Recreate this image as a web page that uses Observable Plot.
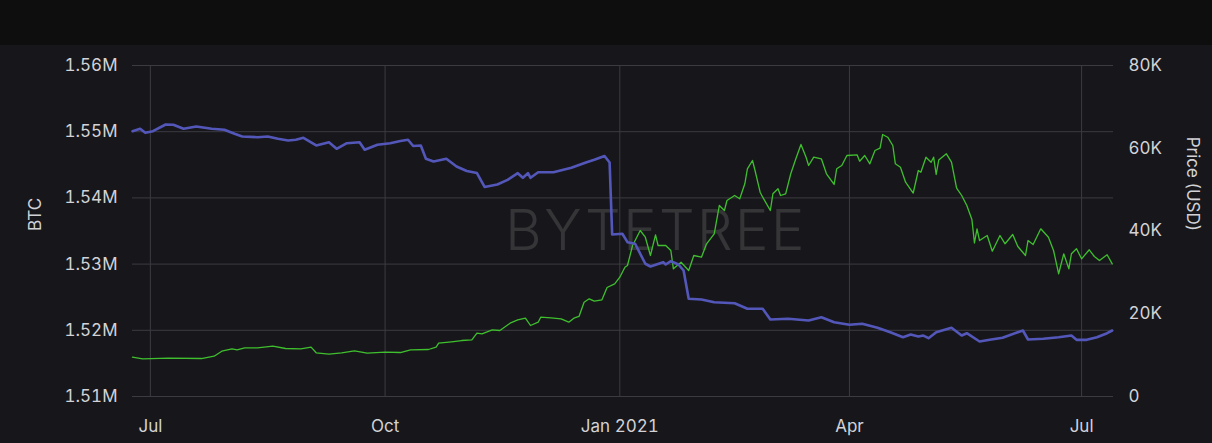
<!DOCTYPE html>
<html><head><meta charset="utf-8">
<script src="https://cdn.jsdelivr.net/npm/d3@7"></script>
<script src="https://cdn.jsdelivr.net/npm/@observablehq/plot@0.6"></script>
<style>
html,body{margin:0;padding:0;background:#0e0e10;overflow:hidden;}
#top{height:45px;background:#0e0e0f;}
#chart{background:#17171b;height:398px;}
</style></head><body>
<div id="top"></div><div id="chart"></div>
<script>
const btcDates = ["2020-06-24","2020-06-27","2020-06-29","2020-07-02","2020-07-07","2020-07-10","2020-07-14","2020-07-19","2020-07-25","2020-07-30","2020-08-03","2020-08-06","2020-08-12","2020-08-16","2020-08-20","2020-08-24","2020-08-27","2020-08-30","2020-09-04","2020-09-09","2020-09-12","2020-09-16","2020-09-21","2020-09-23","2020-09-28","2020-10-03","2020-10-07","2020-10-10","2020-10-12","2020-10-15","2020-10-17","2020-10-20","2020-10-25","2020-10-29","2020-11-02","2020-11-06","2020-11-09","2020-11-14","2020-11-18","2020-11-22","2020-11-24","2020-11-26","2020-11-27","2020-11-30","2020-12-06","2020-12-13","2020-12-19","2020-12-22","2020-12-26","2020-12-28","2020-12-29","2021-01-02","2021-01-04","2021-01-07","2021-01-11","2021-01-13","2021-01-18","2021-01-19","2021-01-21","2021-01-24","2021-01-26","2021-01-28","2021-02-02","2021-02-07","2021-02-15","2021-02-20","2021-02-26","2021-03-01","2021-03-08","2021-03-16","2021-03-21","2021-03-26","2021-04-01","2021-04-06","2021-04-12","2021-04-17","2021-04-22","2021-04-25","2021-04-28","2021-04-30","2021-05-02","2021-05-05","2021-05-11","2021-05-15","2021-05-17","2021-05-22","2021-05-26","2021-05-31","2021-06-06","2021-06-08","2021-06-10","2021-06-16","2021-06-22","2021-06-27","2021-06-29","2021-07-03","2021-07-07","2021-07-11","2021-07-13"];
const btcValues = [1550080,1550440,1549830,1550080,1551090,1551040,1550440,1550790,1550440,1550290,1549680,1549270,1549170,1549270,1548930,1548670,1548780,1549080,1547920,1548410,1547420,1548260,1548410,1547270,1548020,1548260,1548600,1548780,1547840,1547920,1545910,1545500,1545910,1544740,1544060,1543760,1541650,1542020,1542730,1543730,1543040,1543730,1543040,1543880,1543880,1544550,1545390,1545760,1546330,1545350,1534470,1534580,1533310,1533070,1530050,1529640,1530290,1529940,1530440,1529940,1529030,1524760,1524650,1524240,1524090,1523250,1523250,1521630,1521740,1521480,1521980,1521220,1520830,1520980,1520380,1519710,1518960,1519370,1519060,1519210,1518810,1519710,1520380,1519210,1519560,1518310,1518560,1518870,1519710,1519970,1518610,1518720,1518960,1519210,1518560,1518560,1518960,1519560,1519970];

const priceDates = ["2020-06-24","2020-06-28","2020-07-08","2020-07-21","2020-07-26","2020-07-29","2020-08-02","2020-08-04","2020-08-07","2020-08-12","2020-08-18","2020-08-23","2020-08-29","2020-09-02","2020-09-04","2020-09-09","2020-09-14","2020-09-19","2020-09-24","2020-10-01","2020-10-07","2020-10-11","2020-10-18","2020-10-21","2020-10-22","2020-10-27","2020-10-31","2020-11-04","2020-11-06","2020-11-08","2020-11-12","2020-11-15","2020-11-19","2020-11-22","2020-11-25","2020-11-27","2020-11-30","2020-12-01","2020-12-05","2020-12-09","2020-12-12","2020-12-14","2020-12-16","2020-12-18","2020-12-20","2020-12-22","2020-12-25","2020-12-27","2020-12-30","2021-01-01","2021-01-03","2021-01-04","2021-01-06","2021-01-09","2021-01-11","2021-01-13","2021-01-15","2021-01-16","2021-01-19","2021-01-21","2021-01-22","2021-01-25","2021-01-28","2021-01-30","2021-02-02","2021-02-04","2021-02-07","2021-02-09","2021-02-11","2021-02-12","2021-02-15","2021-02-17","2021-02-19","2021-02-20","2021-02-22","2021-02-23","2021-02-25","2021-02-26","2021-03-01","2021-03-02","2021-03-04","2021-03-05","2021-03-07","2021-03-09","2021-03-11","2021-03-13","2021-03-15","2021-03-16","2021-03-18","2021-03-21","2021-03-23","2021-03-26","2021-03-27","2021-03-29","2021-03-31","2021-04-04","2021-04-05","2021-04-07","2021-04-09","2021-04-11","2021-04-13","2021-04-14","2021-04-16","2021-04-18","2021-04-19","2021-04-21","2021-04-23","2021-04-26","2021-04-28","2021-04-29","2021-05-01","2021-05-03","2021-05-04","2021-05-05","2021-05-06","2021-05-09","2021-05-11","2021-05-13","2021-05-15","2021-05-17","2021-05-19","2021-05-20","2021-05-21","2021-05-22","2021-05-25","2021-05-27","2021-05-30","2021-06-01","2021-06-04","2021-06-06","2021-06-09","2021-06-10","2021-06-12","2021-06-15","2021-06-18","2021-06-20","2021-06-22","2021-06-24","2021-06-26","2021-06-27","2021-06-29","2021-07-01","2021-07-04","2021-07-06","2021-07-08","2021-07-11","2021-07-13"];
const priceValues = [9500,9110,9260,9180,9740,10950,11530,11290,11770,11770,12160,11600,11530,11920,10560,10220,10560,11050,10470,10710,10630,11290,11360,11920,12880,13220,13530,13700,15300,15150,16120,15950,17720,18540,18920,17160,17960,19170,19020,18780,17960,18920,19340,22790,23610,23030,23370,26340,27240,28830,31250,31660,36500,40120,38500,34080,39080,36500,36500,35290,30860,32460,30450,34080,33670,36910,39320,46160,44950,47370,48580,47780,51410,55030,57040,54620,49380,48170,44950,48990,50200,48580,48990,53830,57450,60910,57840,55830,57840,57450,53830,51240,55030,55830,58250,58420,56870,58250,56240,59460,60010,63320,62670,60660,56240,55420,51800,49180,54620,54210,57840,56630,57840,53660,57160,58660,56630,50390,48580,46160,42780,37100,40530,37700,38910,35120,38910,36910,39150,36250,34080,37700,36740,40530,38500,35290,29660,34490,30860,34490,35700,33280,35460,33840,32870,34250,32070];

const btcTicks = [1510000,1520000,1530000,1540000,1550000,1560000];
const btcTickLabels = ["1.51M","1.52M","1.53M","1.54M","1.55M","1.56M"];
const priceTicks = [0,20000,40000,60000,80000];
const priceTickLabels = ["0","20K","40K","60K","80K"];
const monthTicks = ["2020-07-01","2020-10-01","2021-01-01","2021-04-01","2021-07-01"];
const monthTickLabels = ["Jul","Oct","Jan 2021","Apr","Jul"];
const leftTitle = "BTC";
const rightTitle = "Price (USD)";
const watermark = "BYTETREE";

const btcDomain = [1510000, 1560000];
const priceDomain = [0, 80000];
const toBtc = p => btcDomain[0] + (p - priceDomain[0]) / (priceDomain[1] - priceDomain[0]) * (btcDomain[1] - btcDomain[0]);

const btcData = btcDates.map((d, i) => ({date: new Date(d), value: btcValues[i]}));
const priceData = priceDates.map((d, i) => ({date: new Date(d), value: toBtc(priceValues[i])}));
const monthDates = monthTicks.map(d => new Date(d));
const monthLabel = new Map(monthDates.map((d, i) => [+d, monthTickLabels[i]]));
const btcLabel = new Map(btcTicks.map((d, i) => [d, btcTickLabels[i]]));
const priceBtc = priceTicks.map(toBtc);
const priceLabel = new Map(priceBtc.map((d, i) => [Math.round(d), priceTickLabels[i]]));

const chart = Plot.plot({
  width: 1212,
  height: 398,
  marginTop: 20,
  marginBottom: 47,
  marginLeft: 132,
  marginRight: 99,
  style: {background: "transparent", color: "#d2d2d6", fontFamily: "Inter, 'Open Sans', sans-serif", fontSize: "17px"},
  x: {type: "utc", domain: [new Date("2020-06-24"), new Date("2021-07-13T12:00:00Z")]},
  y: {domain: btcDomain},
  marks: [
    Plot.gridX(monthDates, {stroke: "#3b3b41", strokeOpacity: 1}),
    Plot.gridY(btcTicks, {stroke: "#3b3b41", strokeOpacity: 1}),
    Plot.text([watermark], {frameAnchor: "middle", dx: 33, dy: 1, fontSize: 56, fontWeight: 300, fill: "#ffffff", fillOpacity: 0.13}),
    Plot.axisX(monthDates, {tickSize: 0, tickPadding: 23, tickFormat: d => monthLabel.get(+d), label: null}),
    Plot.axisY(btcTicks, {anchor: "left", tickSize: 0, tickPadding: 15, tickFormat: d => btcLabel.get(d), label: null}),
    Plot.axisY(priceBtc, {anchor: "right", tickSize: 0, tickPadding: 15, tickFormat: d => priceLabel.get(Math.round(d)), label: null}),
    Plot.text([leftTitle], {frameAnchor: "left", dx: -97, rotate: -90, fill: "#d2d2d6", fontSize: 17}),
    Plot.text([rightTitle], {frameAnchor: "right", dx: 79, rotate: 90, fill: "#d2d2d6", fontSize: 17}),
    Plot.line(priceData, {x: "date", y: "value", stroke: "#3fbf2e", strokeWidth: 1.3}),
    Plot.line(btcData, {x: "date", y: "value", stroke: "#5457ba", strokeWidth: 2.6})
  ]
});
chart.querySelectorAll("text").forEach(t => { if (t.textContent === watermark) t.setAttribute("letter-spacing", "2.5"); });
document.getElementById("chart").appendChild(chart);
</script>
</body></html>
